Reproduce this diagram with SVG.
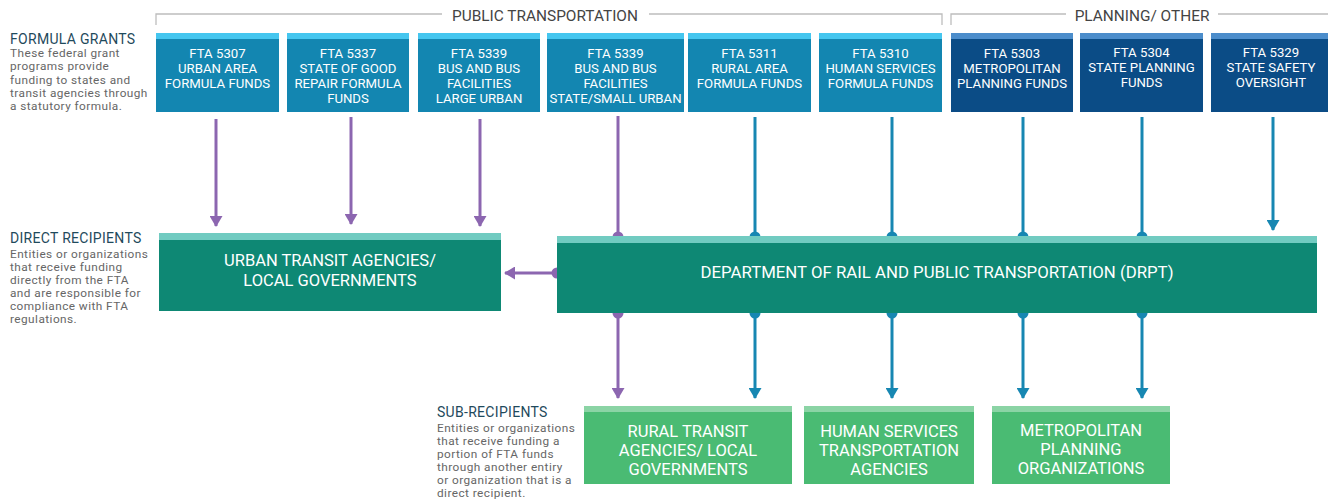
<svg xmlns="http://www.w3.org/2000/svg" width="1328" height="504" viewBox="0 0 1328 504">
<defs>
<style>
.bg{fill:#ffffff}
.fb{fill:#1386B1}
.fbs{fill:#45C6EF}
.pb{fill:#0B4C86}
.pbs{fill:#4C8DCB}
.dr{fill:#0E8874}
.drs{fill:#71CBC1}
.sr{fill:#4ABB73}
.srs{fill:#8BD4A5}
.bt{font-family:Roboto,"Noto Sans","Liberation Sans",sans-serif;font-size:13.2px;fill:#ffffff;text-anchor:middle}
.bigt{font-family:Roboto,"Noto Sans","Liberation Sans",sans-serif;font-size:16.5px;fill:#ffffff;text-anchor:middle}
.hd{font-family:Roboto,"Noto Sans","Liberation Sans",sans-serif;font-size:14px;letter-spacing:0.3px;fill:#1F4A5C}
.ds{font-family:Roboto,"Noto Sans","Liberation Sans",sans-serif;font-size:11.8px;letter-spacing:0.45px;fill:#666666}
.gh{font-family:Roboto,"Noto Sans","Liberation Sans",sans-serif;font-size:15.4px;fill:#444444;text-anchor:middle}
.br{fill:none;stroke:#BDBDBD;stroke-width:1.3}
.cp{stroke:#8C66B0;stroke-width:3;fill:none}
.cb{stroke:#1787B2;stroke-width:3;fill:none}
.dp{fill:#8C66B0}
.db{fill:#1787B2}
</style>
<marker id="ap" markerWidth="11" markerHeight="13" viewBox="0 0 11 13" refX="10" refY="6.5" orient="auto" markerUnits="userSpaceOnUse">
<path d="M0,0 L11,6.5 L0,13 Z" fill="#8C66B0"/>
</marker>
<marker id="ab" markerWidth="11" markerHeight="13" viewBox="0 0 11 13" refX="10" refY="6.5" orient="auto" markerUnits="userSpaceOnUse">
<path d="M0,0 L11,6.5 L0,13 Z" fill="#1787B2"/>
</marker>
</defs>
<rect class="bg" x="0" y="0" width="1328" height="504"/>

<g id="group-headers">
<path class="br" d="M156,25 V14 H442 M649,14 H942 V25"/>
<text class="gh" x="545" y="20.5">PUBLIC TRANSPORTATION</text>
<path class="br" d="M951,25 V14 H1066 M1218,14 H1328"/>
<text class="gh" x="1142" y="20.5">PLANNING/ OTHER</text>
</g>

<g id="legend-formula">
<text class="hd" x="10" y="44">FORMULA GRANTS</text>
<text class="ds"><tspan x="10" y="57">These federal grant</tspan><tspan x="10" y="70">programs provide</tspan><tspan x="10" y="83.5">funding to states and</tspan><tspan x="10" y="97">transit agencies through</tspan><tspan x="10" y="110">a statutory formula.</tspan></text>
</g>
<g id="legend-direct">
<text class="hd" x="10" y="243">DIRECT RECIPIENTS</text>
<text class="ds"><tspan x="10" y="258">Entities or organizations</tspan><tspan x="10" y="271">that receive funding</tspan><tspan x="10" y="284">directly from the FTA</tspan><tspan x="10" y="297">and are responsible for</tspan><tspan x="10" y="310">compliance with FTA</tspan><tspan x="10" y="323">regulations.</tspan></text>
</g>
<g id="legend-sub">
<text class="hd" x="437" y="417">SUB-RECIPIENTS</text>
<text class="ds"><tspan x="437" y="432">Entities or organizations</tspan><tspan x="437" y="445">that receive funding a</tspan><tspan x="437" y="458">portion of FTA funds</tspan><tspan x="437" y="471">through another entiry</tspan><tspan x="437" y="484">or organization that is a</tspan><tspan x="437" y="497">direct recipient.</tspan></text>
</g>

<g id="connectors">
<line class="cp" x1="216" y1="119" x2="216" y2="226" marker-end="url(#ap)"/>
<line class="cp" x1="351" y1="117" x2="351" y2="224" marker-end="url(#ap)"/>
<line class="cp" x1="480" y1="119" x2="480" y2="226" marker-end="url(#ap)"/>
<line class="cp" x1="618" y1="116" x2="618" y2="236"/>
<circle class="dp" cx="618" cy="237" r="5.5"/>
<line class="cb" x1="755" y1="117" x2="755" y2="236"/>
<circle class="db" cx="755" cy="237" r="5.5"/>
<line class="cb" x1="892" y1="117" x2="892" y2="236"/>
<circle class="db" cx="892" cy="237" r="5.5"/>
<line class="cb" x1="1023" y1="117" x2="1023" y2="236"/>
<circle class="db" cx="1023" cy="237" r="5.5"/>
<line class="cb" x1="1142" y1="117" x2="1142" y2="236"/>
<circle class="db" cx="1142" cy="237" r="5.5"/>
<line class="cb" x1="1273" y1="117" x2="1273" y2="230" marker-end="url(#ab)"/>
<line class="cp" x1="557" y1="273" x2="505" y2="273" marker-end="url(#ap)"/>
<circle class="dp" cx="557" cy="273" r="5.5"/>
<line class="cp" x1="618" y1="313" x2="618" y2="398" marker-end="url(#ap)"/>
<circle class="dp" cx="618" cy="313" r="5.5"/>
<line class="cb" x1="755" y1="313" x2="755" y2="398" marker-end="url(#ab)"/>
<circle class="db" cx="755" cy="313" r="5.5"/>
<line class="cb" x1="892" y1="313" x2="892" y2="398" marker-end="url(#ab)"/>
<circle class="db" cx="892" cy="313" r="5.5"/>
<line class="cb" x1="1023" y1="313" x2="1023" y2="398" marker-end="url(#ab)"/>
<circle class="db" cx="1023" cy="313" r="5.5"/>
<line class="cb" x1="1142" y1="313" x2="1142" y2="398" marker-end="url(#ab)"/>
<circle class="db" cx="1142" cy="313" r="5.5"/>
</g>

<g id="fta5307">
<rect class="fb" x="156" y="33" width="123" height="79"/><rect class="fbs" x="156" y="33" width="123" height="6"/>
<text class="bt"><tspan x="217.5" y="58">FTA 5307</tspan><tspan x="217.5" y="73">URBAN AREA</tspan><tspan x="217.5" y="88">FORMULA FUNDS</tspan></text>
</g>
<g id="fta5337">
<rect class="fb" x="287" y="33" width="122" height="79"/><rect class="fbs" x="287" y="33" width="122" height="6"/>
<text class="bt"><tspan x="348" y="58">FTA 5337</tspan><tspan x="348" y="73">STATE OF GOOD</tspan><tspan x="348" y="88">REPAIR FORMULA</tspan><tspan x="348" y="103">FUNDS</tspan></text>
</g>
<g id="fta5339-large">
<rect class="fb" x="418" y="33" width="122" height="79"/><rect class="fbs" x="418" y="33" width="122" height="6"/>
<text class="bt"><tspan x="479" y="58">FTA 5339</tspan><tspan x="479" y="73">BUS AND BUS</tspan><tspan x="479" y="88">FACILITIES</tspan><tspan x="479" y="103">LARGE URBAN</tspan></text>
</g>
<g id="fta5339-small">
<rect class="fb" x="547" y="33" width="137" height="79"/><rect class="fbs" x="547" y="33" width="137" height="6"/>
<text class="bt"><tspan x="615.5" y="58">FTA 5339</tspan><tspan x="615.5" y="73">BUS AND BUS</tspan><tspan x="615.5" y="88">FACILITIES</tspan><tspan x="615.5" y="103">STATE/SMALL URBAN</tspan></text>
</g>
<g id="fta5311">
<rect class="fb" x="688" y="33" width="123" height="79"/><rect class="fbs" x="688" y="33" width="123" height="6"/>
<text class="bt"><tspan x="749.5" y="58">FTA 5311</tspan><tspan x="749.5" y="73">RURAL AREA</tspan><tspan x="749.5" y="88">FORMULA FUNDS</tspan></text>
</g>
<g id="fta5310">
<rect class="fb" x="819" y="33" width="123" height="79"/><rect class="fbs" x="819" y="33" width="123" height="6"/>
<text class="bt"><tspan x="880.5" y="58">FTA 5310</tspan><tspan x="880.5" y="73">HUMAN SERVICES</tspan><tspan x="880.5" y="88">FORMULA FUNDS</tspan></text>
</g>
<g id="fta5303">
<rect class="pb" x="951" y="33" width="122" height="79"/><rect class="pbs" x="951" y="33" width="122" height="6"/>
<text class="bt"><tspan x="1012" y="58">FTA 5303</tspan><tspan x="1012" y="73">METROPOLITAN</tspan><tspan x="1012" y="88">PLANNING FUNDS</tspan></text>
</g>
<g id="fta5304">
<rect class="pb" x="1080" y="33" width="123" height="79"/><rect class="pbs" x="1080" y="33" width="123" height="6"/>
<text class="bt"><tspan x="1141.5" y="57">FTA 5304</tspan><tspan x="1141.5" y="72">STATE PLANNING</tspan><tspan x="1141.5" y="87">FUNDS</tspan></text>
</g>
<g id="fta5329">
<rect class="pb" x="1211" y="33" width="117" height="79"/><rect class="pbs" x="1211" y="33" width="117" height="6"/>
<text class="bt"><tspan x="1271" y="57">FTA 5329</tspan><tspan x="1271" y="72">STATE SAFETY</tspan><tspan x="1271" y="87">OVERSIGHT</tspan></text>
</g>

<g id="urban-transit">
<rect class="dr" x="159" y="233" width="342" height="78"/><rect class="drs" x="159" y="233" width="342" height="7"/>
<text class="bigt"><tspan x="330" y="266">URBAN TRANSIT AGENCIES/</tspan><tspan x="330" y="285.5">LOCAL GOVERNMENTS</tspan></text>
</g>
<g id="drpt">
<rect class="dr" x="557" y="236" width="760" height="77"/><rect class="drs" x="557" y="236" width="760" height="7"/>
<text class="bigt" x="937" y="278" style="font-size:16.8px">DEPARTMENT OF RAIL AND PUBLIC TRANSPORTATION (DRPT)</text>
</g>

<g id="rural-transit">
<rect class="sr" x="584" y="406" width="208" height="78"/><rect class="srs" x="584" y="406" width="208" height="6"/>
<text class="bigt"><tspan x="688" y="437">RURAL TRANSIT</tspan><tspan x="688" y="456">AGENCIES/ LOCAL</tspan><tspan x="688" y="475">GOVERNMENTS</tspan></text>
</g>
<g id="human-services">
<rect class="sr" x="804" y="406" width="170" height="78"/><rect class="srs" x="804" y="406" width="170" height="6"/>
<text class="bigt"><tspan x="889" y="437">HUMAN SERVICES</tspan><tspan x="889" y="456">TRANSPORTATION</tspan><tspan x="889" y="475">AGENCIES</tspan></text>
</g>
<g id="mpo">
<rect class="sr" x="992" y="406" width="178" height="78"/><rect class="srs" x="992" y="406" width="178" height="6"/>
<text class="bigt"><tspan x="1081" y="436">METROPOLITAN</tspan><tspan x="1081" y="455">PLANNING</tspan><tspan x="1081" y="474">ORGANIZATIONS</tspan></text>
</g>
</svg>
